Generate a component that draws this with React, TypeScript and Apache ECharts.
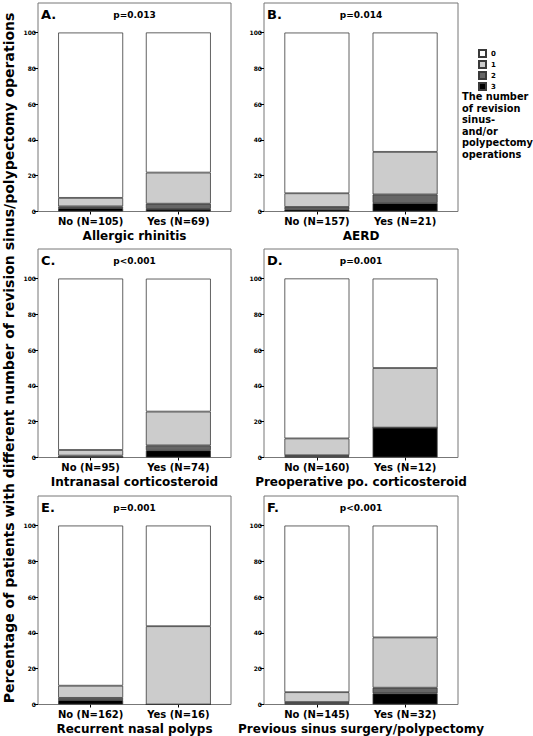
import React, { useEffect, useRef } from "react";
import * as echarts from "echarts";

const panelLetters = ["A.", "B.", "C.", "D.", "E.", "F."];
const pValues = ["p=0.013", "p=0.014", "p<0.001", "p=0.001", "p=0.001", "p<0.001"];
const variableNames = [
  "Allergic rhinitis",
  "AERD",
  "Intranasal corticosteroid",
  "Preoperative po. corticosteroid",
  "Recurrent nasal polyps",
  "Previous sinus surgery/polypectomy",
];
const groupLabels = [
  ["No (N=105)", "Yes (N=69)"],
  ["No (N=157)", "Yes (N=21)"],
  ["No (N=95)", "Yes (N=74)"],
  ["No (N=160)", "Yes (N=12)"],
  ["No (N=162)", "Yes (N=16)"],
  ["No (N=145)", "Yes (N=32)"],
];
// percentage of patients per number of revision operations, [No, Yes]
const level3 = [[1.9, 1.45], [1.27, 4.76], [0, 4.05], [0.63, 16.7], [2.47, 0], [0.69, 6.25]];
const level2 = [[0.95, 2.9], [1.27, 4.76], [1.05, 2.7], [0.63, 0], [1.23, 0], [0.69, 3.13]];
const level1 = [[4.76, 17.4], [7.64, 23.8], [3.16, 18.9], [9.4, 33.3], [6.8, 43.75], [5.5, 28.1]];
const level0 = [[92.4, 78.3], [89.8, 66.7], [95.8, 74.3], [89.4, 50.0], [89.5, 56.25], [93.1, 62.5]];
const levelNames = ["0", "1", "2", "3"];
const yTicks = [0, 20, 40, 60, 80, 100];
const yAxisTitle =
  "Percentage of patients with different number of revision sinus/polypectomy operations";
const legendTitle = "The number\nof revision\nsinus-\nand/or\npolypectomy\noperations";

const FONT = "DejaVu Sans";
const levelColors = ["#ffffff", "#cccccc", "#666666", "#000000"];

export default function App() {
  const ref = useRef<HTMLDivElement>(null);
  useEffect(() => {
    if (!ref.current) return;
    const chart = echarts.init(ref.current, null, { renderer: "svg" });
    const colLeft = [38, 264];
    const colWidth = [193, 194];
    const rowTop = [3, 249, 496];
    const gridH = 208.5;

    const grids: any[] = [];
    const xAxes: any[] = [];
    const yAxes: any[] = [];
    const series: any[] = [];
    const graphics: any[] = [];

    const levels = [level0, level1, level2, level3];

    for (let i = 0; i < 6; i++) {
      const c = i % 2;
      const r = Math.floor(i / 2);
      const left = colLeft[c];
      const top = rowTop[r];
      const w = colWidth[c];
      grids.push({
        left,
        top,
        width: w,
        height: gridH,
        show: true,
        borderColor: "#777777",
        borderWidth: 1,
        backgroundColor: "transparent",
        containLabel: false,
      });
      xAxes.push({
        type: "value",
        gridIndex: i,
        min: 0.4,
        max: 2.6,
        axisLine: { show: false },
        splitLine: { show: false },
        axisTick: {
          show: true,
          customValues: [1, 2],
          length: 3,
          lineStyle: { color: "#000", width: 1 },
        },
        axisLabel: {
          customValues: [1, 2],
          formatter: (v: number) => groupLabels[i][Math.round(v) - 1] ?? "",
          fontFamily: FONT,
          fontWeight: "bold",
          fontSize: 10,
          color: "#000",
          margin: 5,
        },
        name: variableNames[i],
        nameLocation: "middle",
        nameGap: 18,
        nameTextStyle: {
          fontFamily: FONT,
          fontWeight: "bold",
          fontSize: 12,
          color: "#000",
        },
      });
      yAxes.push({
        type: "value",
        gridIndex: i,
        min: 0,
        max: 116.5,
        axisLine: { show: false },
        splitLine: { show: false },
        axisTick: {
          show: true,
          customValues: yTicks,
          length: 4,
          lineStyle: { color: "#000", width: 1 },
        },
        axisLabel: {
          customValues: yTicks,
          fontFamily: FONT,
          fontWeight: "bold",
          fontSize: 6,
          color: "#000",
          margin: 2,
        },
      });
      // stack from bottom: 3, 2, 1, 0 ; data given as [value, position]
      for (let l = 3; l >= 0; l--) {
        series.push({
          type: "bar",
          name: levelNames[l],
          xAxisIndex: i,
          yAxisIndex: i,
          stack: "p" + i,
          barWidth: 65,
          dimensions: ["pct", "pos"],
          encode: { x: "pos", y: "pct" },
          data: [
            [levels[l][i][0], 1],
            [levels[l][i][1], 2],
          ],
          itemStyle: {
            color: levelColors[l],
            borderColor: "#3a3a3a",
            borderWidth: 0.8,
          },
          emphasis: { disabled: true },
        });
      }
      graphics.push({
        type: "text",
        x: left + 3,
        y: top + 11,
        style: {
          text: panelLetters[i],
          fontFamily: FONT,
          fontWeight: "bold",
          fontSize: 13,
          fill: "#000",
          verticalAlign: "middle",
        },
      });
      graphics.push({
        type: "text",
        x: left + w / 2,
        y: top + 12,
        style: {
          text: pValues[i],
          fontFamily: FONT,
          fontWeight: "bold",
          fontSize: 9,
          fill: "#000",
          align: "center",
          verticalAlign: "middle",
        },
      });
    }

    graphics.push({
      type: "text",
      x: 9,
      y: 358,
      rotation: Math.PI / 2,
      style: {
        text: yAxisTitle,
        fontFamily: FONT,
        fontWeight: "bold",
        fontSize: 14,
        fill: "#000",
        align: "center",
        verticalAlign: "middle",
      },
    });
    graphics.push({
      type: "text",
      x: 462,
      y: 91,
      style: {
        text: legendTitle,
        fontFamily: FONT,
        fontWeight: "bold",
        fontSize: 9.8,
        lineHeight: 11.5,
        fill: "#000",
        align: "left",
        verticalAlign: "top",
      },
    });

    chart.setOption({
      animation: false,
      backgroundColor: "#ffffff",
      grid: grids,
      xAxis: xAxes,
      yAxis: yAxes,
      series,
      legend: {
        data: levelNames,
        orient: "vertical",
        left: 478,
        top: 49,
        padding: 0,
        itemWidth: 7,
        itemHeight: 7,
        itemGap: 2,
        icon: "rect",
        selectedMode: false,
        textStyle: {
          fontFamily: FONT,
          fontWeight: "bold",
          fontSize: 7,
          lineHeight: 8,
          color: "#000",
        },
      },
      graphic: graphics,
    });
    return () => chart.dispose();
  }, []);
  return (
    <div
      ref={ref}
      style={{ position: "fixed", left: 0, top: 0, width: 533, height: 736 }}
    />
  );
}
